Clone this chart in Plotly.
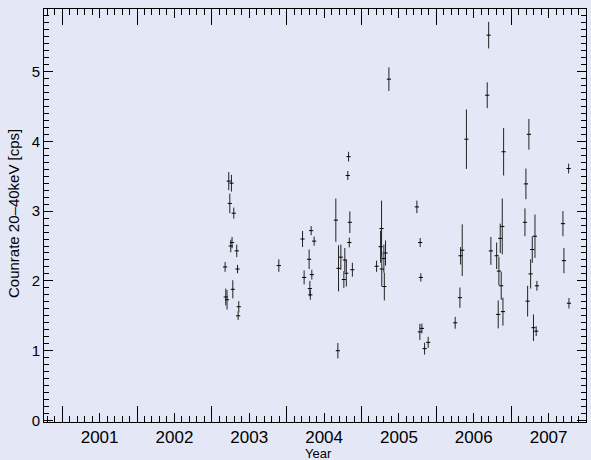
import plotly.graph_objects as go

# ---- data (decimal year, count rate [cps], 1-sigma error) ----
years = [
    2003.226, 2003.262, 2003.240, 2003.293, 2003.253, 2003.270, 2003.333, 2003.177,
    2003.343, 2003.280, 2003.186, 2003.203, 2003.360, 2003.351, 2003.895,
    2004.212, 2004.327, 2004.367, 2004.300, 2004.233, 2004.336, 2004.310, 2004.316,
    2004.657, 2004.844, 2004.837, 2004.693, 2004.724, 2004.777, 2004.764, 2004.797,
    2004.878, 2004.684, 2004.827, 2004.817,
    2005.366, 2005.268, 2005.271, 2005.255, 2005.321, 2005.299, 2005.201, 2005.305,
    2005.740, 2005.784, 2005.793, 2005.780, 2005.807, 2005.843, 2005.891,
    2006.252, 2006.315, 2006.324, 2006.346, 2006.402, 2006.699, 2006.680, 2006.729,
    2006.806, 2006.854, 2006.881, 2006.836, 2006.867, 2006.890, 2006.827, 2006.899,
    2007.237, 2007.197, 2007.184, 2007.318, 2007.282, 2007.260, 2007.344, 2007.220,
    2007.298, 2007.334, 2007.692, 2007.705, 2007.768, 2007.772,
]
rates = [
    3.43, 3.40, 3.11, 2.97, 2.50, 2.55, 2.43, 2.20,
    2.17, 1.88, 1.77, 1.73, 1.63, 1.50, 2.22,
    2.60, 2.72, 2.57, 2.31, 2.05, 2.09, 1.89, 1.80,
    2.87, 2.84, 2.55, 2.18, 2.34, 2.30, 2.02, 2.11,
    2.16, 1.00, 3.78, 3.51,
    4.89, 2.75, 2.17, 2.49, 2.40, 2.32, 2.21, 1.92,
    3.06, 2.55, 2.05, 1.27, 1.32, 1.03, 1.12,
    1.40, 1.76, 2.36, 2.44, 4.03, 5.52, 4.66, 2.43,
    2.36, 2.61, 2.78, 2.14, 1.93, 1.56, 1.52, 3.85,
    4.10, 3.39, 2.84, 2.64, 2.45, 2.10, 1.93, 1.71,
    1.33, 1.28, 2.82, 2.29, 3.61, 1.68,
]
errors = [
    0.13, 0.12, 0.14, 0.08, 0.09, 0.08, 0.09, 0.07,
    0.06, 0.13, 0.12, 0.14, 0.08, 0.06, 0.09,
    0.115, 0.065, 0.065, 0.14, 0.10, 0.07, 0.11, 0.07,
    0.31, 0.155, 0.07, 0.33, 0.18, 0.17, 0.12, 0.19,
    0.10, 0.11, 0.07, 0.065,
    0.17, 0.40, 0.25, 0.23, 0.18, 0.20, 0.08, 0.20,
    0.09, 0.065, 0.06, 0.115, 0.07, 0.085, 0.08,
    0.085, 0.145, 0.125, 0.37, 0.425, 0.19, 0.185, 0.20,
    0.19, 0.21, 0.40, 0.205, 0.20, 0.20, 0.20, 0.34,
    0.22, 0.22, 0.20, 0.31, 0.19, 0.21, 0.07, 0.22,
    0.19, 0.07, 0.18, 0.18, 0.07, 0.075,
]

year_label_pos = [2001.5, 2002.5, 2003.5, 2004.5, 2005.5, 2006.5, 2007.5]
year_labels = ["2001", "2002", "2003", "2004", "2005", "2006", "2007"]

x_range = [2000.757, 2008.0]
y_range = [-0.021, 5.895]

# minor tick positions (axis decoration): every 0.1 year / 0.1 cps
x_minor = [round(2000.8 + 0.1 * i, 1) for i in range(73)]
y_minor = [round(0.1 * i, 1) for i in range(59)]

BG = "#E4E8F6"
FONT = "Liberation Sans, Arial, Helvetica, sans-serif"
INK = "#000000"

fig = go.Figure()
fig.add_trace(go.Scatter(
    x=years, y=rates, mode="markers",
    marker=dict(symbol="line-ew", size=3, color="black",
                line=dict(width=1, color="black")),
    error_y=dict(type="data", array=errors, visible=True,
                 thickness=1, width=0, color="#222222"),
    showlegend=False, hoverinfo="skip",
))
# invisible traces that activate the helper tick axes
for xa, ya in (("x2", "y"), ("x3", "y"), ("x", "y2")):
    fig.add_trace(go.Scatter(x=[x_range[0]], y=[y_range[0]], xaxis=xa, yaxis=ya,
                             mode="markers", marker=dict(opacity=0),
                             showlegend=False, hoverinfo="skip"))

common = dict(tickwidth=1, showline=True, linecolor="black", linewidth=1,
              mirror="ticks", showgrid=False, zeroline=False, ticks="inside")

fig.update_layout(
    width=591, height=460,
    margin=dict(l=44, r=5, t=9, b=38),
    paper_bgcolor=BG, plot_bgcolor=BG,
    font=dict(family=FONT, color="black"),
    # major year ticks (no labels)
    xaxis=dict(range=x_range, tickmode="linear", tick0=2001, dtick=1,
               showticklabels=False, ticklen=16, tickcolor=INK, **common),
    # half-year ticks carrying the year labels
    xaxis2=dict(range=x_range, overlaying="x", side="bottom", anchor="y",
                tickmode="array", tickvals=year_label_pos, ticktext=year_labels,
                ticklen=9, tickcolor=INK,
                tickfont=dict(size=17, family=FONT, color="black"), **common),
    # minor 0.1-year ticks
    xaxis3=dict(range=x_range, overlaying="x", side="bottom", anchor="y",
                tickmode="array", tickvals=x_minor, tickcolor=INK,
                showticklabels=False, ticklen=6, **common),
    yaxis=dict(range=y_range, tickmode="linear", tick0=0, dtick=1,
               ticklen=9, tickcolor=INK,
               tickfont=dict(size=15, family=FONT, color="black"), **common),
    yaxis2=dict(range=y_range, overlaying="y", side="left", anchor="x",
                tickmode="array", tickvals=y_minor, tickcolor=INK,
                showticklabels=False, ticklen=5, **common),
    annotations=[
        dict(text="Year", xref="paper", yref="paper",
             x=(318.5 - 44) / 542, y=-(453 - 422) / 413,
             xanchor="center", yanchor="middle", showarrow=False,
             font=dict(size=13, family=FONT, color="black")),
        dict(text="Counrate 20–40keV [cps]", xref="paper", yref="paper",
             x=-(44 - 14) / 542, y=(422 - 214) / 413, textangle=-90,
             xanchor="center", yanchor="middle", showarrow=False,
             font=dict(size=15, family=FONT, color="black")),
    ],
)

fig.write_html("out.html")
